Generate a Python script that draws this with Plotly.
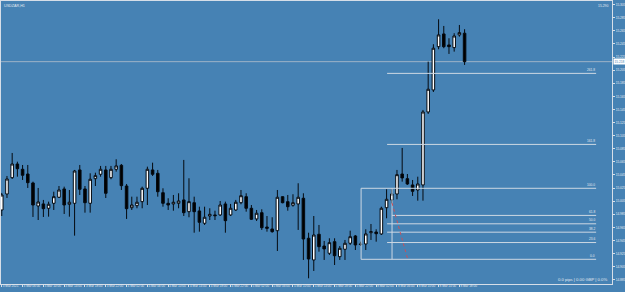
import plotly.graph_objects as go

# ---- data ----
symbol_title = "USDZAR,H1"

opens = [14.9916, 15.0160, 15.0409, 15.0618, 15.0537, 15.0465, 15.0328, 14.9977, 15.0008, 14.9942,
         15.0018, 15.0110, 15.0237, 15.0003, 15.0018, 15.0527, 15.0237, 15.0018, 15.0394, 15.0461,
         15.0527, 15.0409, 15.0537, 15.0598, 15.0282, 14.9951, 14.9982, 15.0043, 15.0247, 15.0527,
         15.0476, 15.0180, 15.0018, 15.0008, 15.0018, 15.0069, 14.9890, 15.0027, 14.9901, 14.9713,
         14.9824, 14.9840, 14.9840, 15.0008, 14.9840, 14.9916, 15.0027, 15.0119, 14.9942, 14.9779,
         14.9875, 14.9656, 14.9626, 14.9600, 15.0119, 15.0043, 14.9988, 15.0008, 15.0095, 14.9484,
         14.9153, 14.9545, 14.9366, 14.9255, 14.9432, 14.9203, 14.9316, 14.9408, 14.9519, 14.9397,
         14.9397, 14.9569, 14.9580, 14.9550, 14.9951, 15.0069, 15.0160, 15.0465, 15.0394, 15.0298,
         15.0221, 15.0298, 15.1412, 15.1748, 15.2409, 15.2603, 15.2435, 15.2394, 15.2588, 15.2614]
highs = [15.0176, 15.0435, 15.0786, 15.0653, 15.0603, 15.0603, 15.0348, 15.0252, 15.0069, 15.0043,
         15.0195, 15.0282, 15.0272, 15.0221, 15.0527, 15.0603, 15.0282, 15.0476, 15.0485, 15.0588,
         15.0588, 15.0588, 15.0690, 15.0618, 15.0313, 15.0119, 15.0119, 15.0272, 15.0577, 15.0638,
         15.0527, 15.0247, 15.0095, 15.0145, 15.0171, 15.0680, 15.0400, 15.0119, 14.9966, 14.9966,
         14.9942, 14.9905, 15.0053, 15.0043, 15.0008, 15.0069, 15.0221, 15.0171, 14.9992, 14.9916,
         14.9927, 14.9824, 14.9805, 15.0221, 15.0125, 15.0145, 15.0156, 15.0324, 15.0171, 14.9569,
         14.9824, 14.9687, 14.9443, 14.9484, 14.9484, 14.9366, 14.9458, 14.9600, 14.9534, 14.9432,
         14.9621, 14.9702, 14.9621, 14.9966, 15.0232, 15.0232, 15.0527, 15.0863, 15.0465, 15.0374,
         15.0424, 15.1443, 15.2180, 15.2446, 15.2827, 15.2725, 15.2537, 15.2614, 15.2740, 15.2675]
lows = [14.9824, 15.0099, 15.0389, 15.0424, 15.0374, 15.0252, 14.9809, 14.9763, 14.9809, 14.9814,
        14.9916, 15.0099, 14.9855, 14.9814, 14.9524, 15.0145, 14.9875, 14.9875, 15.0282, 15.0424,
        15.0099, 15.0385, 15.0501, 15.0221, 14.9779, 14.9916, 14.9942, 14.9942, 14.9992, 15.0435,
        15.0119, 14.9966, 14.9916, 14.9905, 14.9942, 14.9824, 14.9805, 14.9569, 14.9585, 14.9687,
        14.9763, 14.9763, 14.9824, 14.9569, 14.9824, 14.9901, 15.0003, 14.9890, 14.9763, 14.9748,
        14.9611, 14.9585, 14.9569, 14.9290, 15.0018, 14.9905, 14.9966, 14.9611, 14.9153, 14.8873,
        14.8985, 14.9279, 14.9153, 14.9229, 14.9076, 14.9153, 14.9153, 14.9382, 14.9305, 14.9366,
        14.9305, 14.9458, 14.9432, 14.9534, 14.9789, 15.0018, 15.0079, 15.0348, 15.0298, 15.0130,
        15.0058, 15.0058, 15.1382, 15.1717, 15.2369, 15.2385, 15.2298, 15.2333, 15.2562, 15.2130]
closes = [15.0145, 15.0389, 15.0618, 15.0546, 15.0446, 15.0333, 14.9992, 15.0038, 14.9936, 15.0003,
          15.0119, 15.0221, 14.9992, 15.0034, 15.0511, 15.0232, 15.0027, 15.0385, 15.0440, 15.0537,
          15.0171, 15.0537, 15.0588, 15.0287, 14.9936, 14.9992, 15.0034, 15.0247, 15.0537, 15.0461,
          15.0195, 15.0018, 14.9992, 15.0034, 15.0053, 14.9875, 15.0043, 14.9890, 14.9728, 14.9805,
          14.9850, 14.9829, 14.9992, 14.9753, 14.9942, 15.0034, 15.0134, 14.9942, 14.9774, 14.9866,
          14.9646, 14.9636, 14.9585, 15.0110, 15.0027, 14.9966, 15.0027, 15.0110, 14.9473, 14.9168,
          14.9534, 14.9356, 14.9321, 14.9417, 14.9218, 14.9331, 14.9408, 14.9508, 14.9382, 14.9390,
          14.9550, 14.9585, 14.9554, 14.9942, 15.0079, 15.0160, 15.0455, 15.0405, 15.0313, 15.0201,
          15.0313, 15.1412, 15.1759, 15.2385, 15.2588, 15.2409, 15.2409, 15.2572, 15.2623, 15.2180]

x_tick_labels = ["3 Mar 2021", "3 Mar 06:00", "3 Mar 10:00", "3 Mar 14:00", "3 Mar 18:00",
                 "3 Mar 22:00", "4 Mar 02:00", "4 Mar 06:00", "4 Mar 10:00", "4 Mar 14:00",
                 "4 Mar 18:00", "4 Mar 22:00", "5 Mar 02:00", "5 Mar 06:00", "5 Mar 10:00",
                 "5 Mar 14:00", "5 Mar 18:00", "5 Mar 22:00", "8 Mar 02:00", "8 Mar 06:00",
                 "8 Mar 10:00", "8 Mar 14:00", "8 Mar 18:00"]
x_tick_step = 4

y_tick_values = [15.305, 15.285, 15.265, 15.245, 15.225, 15.205, 15.185, 15.165, 15.145, 15.125,
                 15.105, 15.085, 15.065, 15.045, 15.025, 15.005, 14.985, 14.965, 14.945, 14.925,
                 14.905, 14.885]
y_tick_labels = ["%.3f" % v for v in y_tick_values]

top_price_text = "15.290"
profit_text = "0.0 pips | 0.00 GBP | 0.0%"

# Fibonacci retracement
fib_low = 14.9163
fib_high = 15.0247
fib_levels = [0.0, 23.6, 38.2, 50.0, 61.8, 100.0, 161.8, 261.8]
fib_labels = ["0.0", "23.6", "38.2", "50.0", "61.8", "100.0", "161.8", "261.8"]
fib_trend_start = (75.05, 15.0023)
fib_trend_end = (78.0, 14.9183)

# ---- style ----
BG = "#4682B4"
TXT = "#e4eaf1"
AXL = "#d6dee8"
FIBC = "#cdd8e3"
FONT = "Liberation Sans, Arial, sans-serif"

n = len(opens)
xs = list(range(n))
last_close = closes[-1]

fig = go.Figure()
fig.add_trace(go.Candlestick(
    x=xs, open=opens, high=highs, low=lows, close=closes,
    increasing=dict(fillcolor="white", line=dict(color="#050a10", width=1)),
    decreasing=dict(fillcolor="black", line=dict(color="#050a10", width=1)),
    whiskerwidth=0, hoverinfo="skip", showlegend=False,
))

X_RANGE = [-0.15, 117.35]
shapes = []
# bid line
shapes.append(dict(type="line", xref="paper", x0=0, x1=1, yref="y", y0=last_close, y1=last_close,
                   line=dict(color="#9db3c8", width=1), layer="below"))

span = fib_high - fib_low
fib_x_right = 114.3
fib_x_left = 74.1
box_x_left = 69.1
vert_x = 75.05
for lvl in fib_levels:
    price = fib_low + span * lvl / 100.0
    if lvl in (0.0, 100.0):
        x0 = box_x_left
    elif lvl == 61.8:
        x0 = vert_x
    else:
        x0 = fib_x_left
    shapes.append(dict(type="line", xref="x", yref="y", x0=x0, x1=fib_x_right, y0=price, y1=price,
                       line=dict(color=FIBC, width=1)))
# box sides and inner vertical
shapes.append(dict(type="line", xref="x", yref="y", x0=box_x_left, x1=box_x_left,
                   y0=fib_low, y1=fib_high, line=dict(color=FIBC, width=1)))
shapes.append(dict(type="line", xref="x", yref="y", x0=vert_x, x1=vert_x,
                   y0=fib_low, y1=fib_high, line=dict(color=FIBC, width=1)))
# red dotted trend line
shapes.append(dict(type="line", xref="x", yref="y", x0=fib_trend_start[0], y0=fib_trend_start[1],
                   x1=fib_trend_end[0], y1=fib_trend_end[1],
                   line=dict(color="#c8505a", width=1, dash="dot")))

annotations = []
for lvl, lab in zip(fib_levels, fib_labels):
    price = fib_low + span * lvl / 100.0
    annotations.append(dict(x=fib_x_right + 0.1, y=price, xref="x", yref="y", text=lab,
                            showarrow=False, xanchor="right", yanchor="bottom",
                            font=dict(size=3.2, color=TXT, family=FONT), yshift=-0.5))

annotations.append(dict(x=0, y=1, xref="paper", yref="paper", text=symbol_title, showarrow=False,
                        xanchor="left", yanchor="top", xshift=1, yshift=-1,
                        font=dict(size=3.7, color=TXT, family=FONT)))
annotations.append(dict(x=1, y=1, xref="paper", yref="paper", text=top_price_text, showarrow=False,
                        xanchor="right", yanchor="top", xshift=-2, yshift=-1,
                        font=dict(size=3.4, color=TXT, family=FONT)))
annotations.append(dict(x=1, y=0, xref="paper", yref="paper", text=profit_text, showarrow=False,
                        xanchor="right", yanchor="bottom", xshift=-3, yshift=0,
                        font=dict(size=4.2, color=TXT, family=FONT)))
annotations.append(dict(x=1, y=last_close, xref="paper", yref="y", text="%.3f" % last_close,
                        showarrow=False, xanchor="left", yanchor="middle", xshift=1,
                        bgcolor="white", borderpad=0.5,
                        font=dict(size=3.2, color=BG, family=FONT)))

fig.update_layout(
    width=625, height=292,
    margin=dict(l=1, r=13, t=1, b=8, pad=0),
    paper_bgcolor=BG, plot_bgcolor=BG,
    showlegend=False,
    shapes=shapes, annotations=annotations,
    boxgap=0.3,
    xaxis=dict(range=X_RANGE, rangeslider=dict(visible=False), showgrid=False, zeroline=False,
               showline=True, linecolor=AXL, linewidth=1, mirror=True,
               ticks="outside", ticklen=2, tickcolor=AXL, tickangle=0,
               tickvals=list(range(0, x_tick_step * len(x_tick_labels), x_tick_step)),
               ticktext=x_tick_labels, ticklabelposition="outside right",
               ticklabelstandoff=-2,
               tickfont=dict(size=3.1, color=TXT, family=FONT), automargin=False, fixedrange=True),
    yaxis=dict(range=[14.8786, 15.3106], side="right", showgrid=False, zeroline=False,
               showline=True, linecolor=AXL, linewidth=1, mirror=True,
               ticks="outside", ticklen=2, tickcolor=AXL,
               tickvals=y_tick_values, ticktext=y_tick_labels,
               tickfont=dict(size=3.2, color=TXT, family=FONT), automargin=False, fixedrange=True),
)

fig.write_html("out.html")
